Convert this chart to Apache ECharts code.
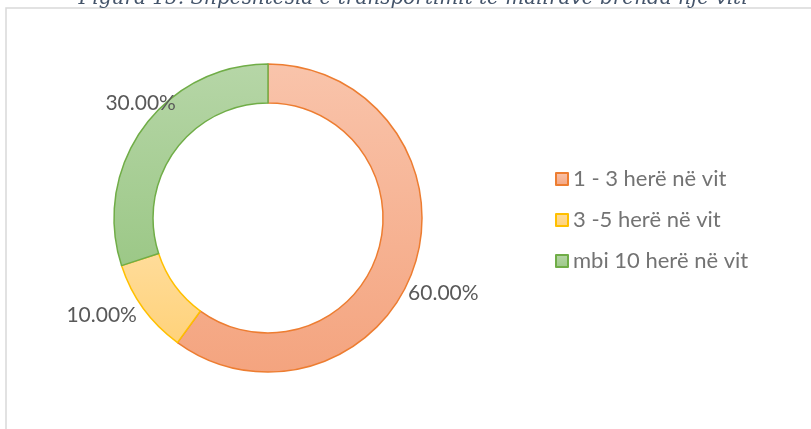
<!DOCTYPE html>
<html>
<head>
<meta charset="utf-8">
<script src="https://cdn.jsdelivr.net/npm/echarts@6/dist/echarts.min.js"></script>
<style>
  html, body { margin: 0; padding: 0; background: #fff; }
  #chart { width: 811px; height: 429px; }
</style>
</head>
<body>
<div id="chart"></div>
<script>
// data
const categories = ['1 - 3 herë në vit', '3 -5 herë në vit', 'mbi 10 herë në vit'];
const shares = [60, 10, 30];
const titleText = 'Figura 15. Shpeshtesia e transportimit te mallrave brenda nje viti';

const fills = [
    ['#f9c4ab', '#f4a47f'],
    ['#ffdc9a', '#ffd27a'],
    ['#b6d6a7', '#9cc887']
];
const strokes = ['#ed7d31', '#ffc000', '#70ad47'];
// nudges so the labels sit where Excel put them
const labelNudge = [[-19, 25], [5, 2], [44, -20]];

function grad(c) {
    return new echarts.graphic.LinearGradient(0, 0, 0, 1, [
        {offset: 0, color: c[0]},
        {offset: 1, color: c[1]}
    ]);
}

const chart = echarts.init(document.getElementById('chart'), null, {renderer: 'canvas'});
chart.setOption({
    animation: false,
    backgroundColor: '#fff',
    graphic: [
        {
            type: 'rect',
            shape: {x: 6, y: 8, width: 900, height: 500},
            style: {fill: 'none', stroke: '#d9d9d9', lineWidth: 1.5}
        },
        {
            type: 'text',
            x: 413, y: 9,
            style: {
                text: titleText,
                fill: '#44546a',
                font: 'italic 20px "DejaVu Serif", "Liberation Serif", serif',
                align: 'center',
                verticalAlign: 'bottom'
            }
        }
    ],
    legend: {
        orient: 'vertical',
        left: 555,
        top: 168,
        padding: 0,
        itemGap: 19,
        itemWidth: 12,
        itemHeight: 12,
        icon: 'rect',
        textStyle: {color: '#737373', fontSize: 22, fontFamily: 'Lato'},
        data: categories
    },
    series: [{
        type: 'pie',
        center: [268, 218],
        radius: [115, 154],
        startAngle: 90,
        clockwise: true,
        avoidLabelOverlap: false,
        label: {
            show: true,
            position: 'outside',
            formatter: p => p.value.toFixed(2) + '%',
            color: '#595959',
            fontSize: 21,
            fontFamily: 'Lato'
        },
        labelLine: {show: false, length: 8, length2: 0},
        data: categories.map((name, i) => ({
            name: name,
            value: shares[i],
            label: {offset: labelNudge[i]},
            itemStyle: {color: grad(fills[i]), borderColor: strokes[i], borderWidth: 1.5}
        }))
    }]
});
</script>
</body>
</html>
